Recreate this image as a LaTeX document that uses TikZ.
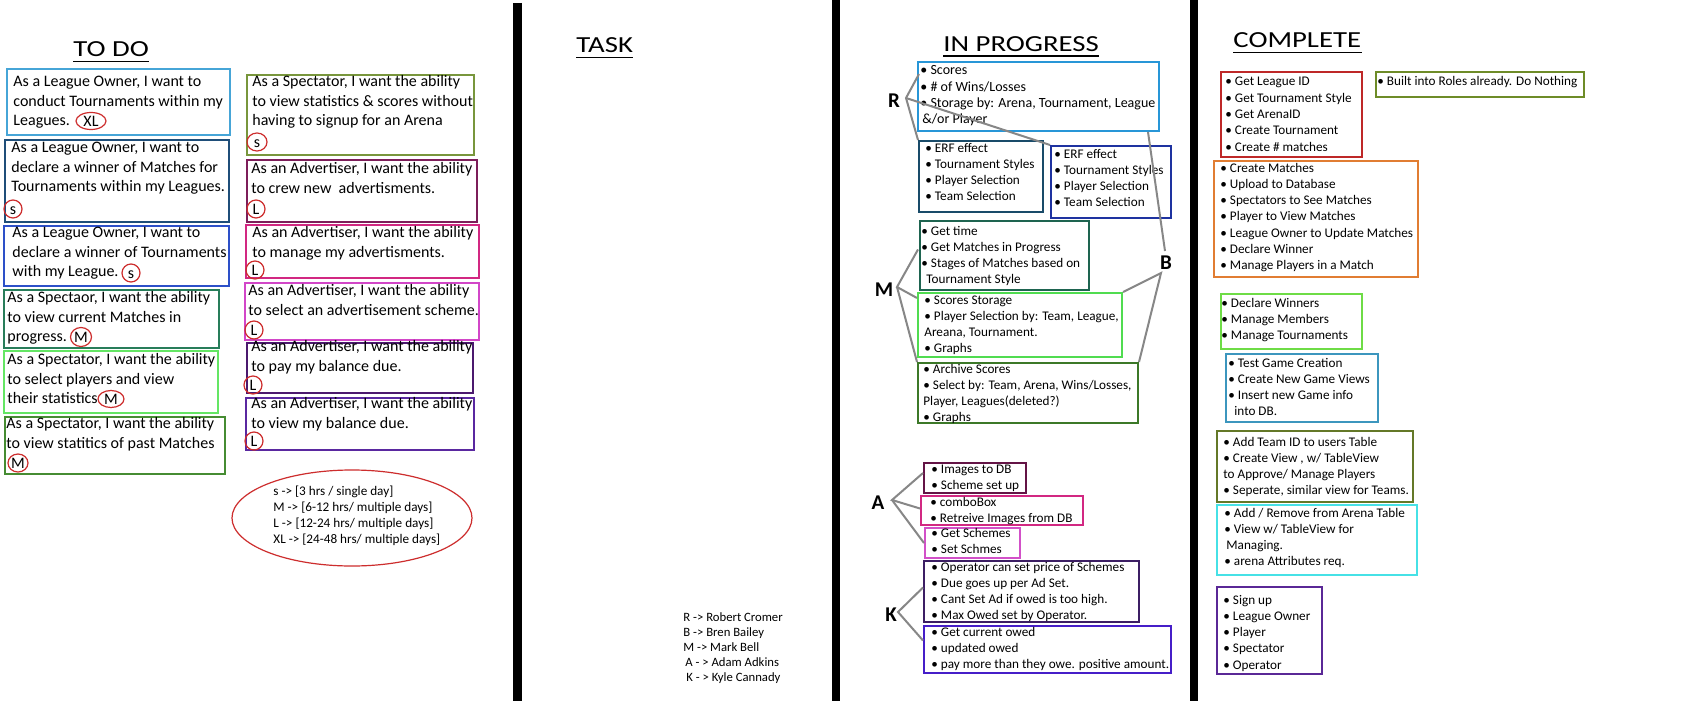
\documentclass[tikz,border=0pt]{standalone}
\usepackage{fontspec}
\setmainfont{Carlito}
\newfontfamily\headfont[FakeStretch=1.25]{Carlito}
\usetikzlibrary{fit,shapes.geometric,calc}
\definecolor{tdA}{RGB}{70,165,215}
\definecolor{tdB}{RGB}{31,78,121}
\definecolor{tdC}{RGB}{45,80,200}
\definecolor{tdD}{RGB}{40,125,90}
\definecolor{tdE}{RGB}{100,230,100}
\definecolor{tdF}{RGB}{70,140,50}
\definecolor{trA}{RGB}{120,150,60}
\definecolor{trB}{RGB}{125,30,90}
\definecolor{trC}{RGB}{210,40,130}
\definecolor{trD}{RGB}{210,70,200}
\definecolor{trE}{RGB}{75,25,110}
\definecolor{trF}{RGB}{90,40,160}
\definecolor{ipR1}{RGB}{40,150,215}
\definecolor{ipR2}{RGB}{25,75,105}
\definecolor{ipR3}{RGB}{30,50,160}
\definecolor{ipM1}{RGB}{30,100,80}
\definecolor{ipM2}{RGB}{80,220,80}
\definecolor{ipM3}{RGB}{60,120,40}
\definecolor{ipA1}{RGB}{100,20,70}
\definecolor{ipA2}{RGB}{210,40,130}
\definecolor{ipA3}{RGB}{210,80,200}
\definecolor{ipK1}{RGB}{60,30,100}
\definecolor{ipK2}{RGB}{70,30,200}
\definecolor{cpA}{RGB}{110,140,40}
\definecolor{cpB}{RGB}{190,40,40}
\definecolor{cpC}{RGB}{225,125,50}
\definecolor{cpD}{RGB}{110,220,70}
\definecolor{cpE}{RGB}{60,150,190}
\definecolor{cpF}{RGB}{100,120,40}
\definecolor{cpG}{RGB}{70,225,230}
\definecolor{cpH}{RGB}{90,40,150}
\definecolor{tagred}{RGB}{205,45,45}
\definecolor{linkgray}{RGB}{135,135,135}
\newcommand\lns[1]{\begin{tabular}[t]{@{}l@{}}#1\end{tabular}}
\begin{document}
\begin{tikzpicture}[x=0.5pt,y=-0.5pt,
  box/.style={draw=#1, line width=1pt, inner sep=0pt},
  story/.style={anchor=base west, inner sep=0pt, font=\fontsize{8}{9.85}\selectfont},
  item/.style={anchor=base west, inner sep=0pt, font=\fontsize{6.6}{8.15}\selectfont},
  head/.style={anchor=base west, inner sep=0pt, font=\headfont\fontsize{11.5}{14}\selectfont},
  tag/.style={ellipse, draw=tagred, line width=0.6pt, inner sep=0pt, minimum width=9pt, minimum height=9pt, text height=5.2pt, text depth=0pt, font=\fontsize{8}{9.85}\selectfont},
  who/.style={inner sep=0pt, font=\bfseries\fontsize{10.5}{12}\selectfont},
  link/.style={draw=linkgray, line width=1pt},
  colrule/.style={line width=4.25pt, black},
  uline/.style={line width=0.75pt, black}]
\useasboundingbox (0,0) rectangle (1700,701);
\fill[white] (0,0) rectangle (1700,701);

% column separators
\draw[colrule] (517.5,3) -- (517.5,701);
\draw[colrule] (836,0) -- (836,701);
\draw[colrule] (1194,0) -- (1194,701);

% headings
\node[head] (h1) at (73,57) {TO DO};
\node[head] (h2) at (576,53) {TASK};
\node[head] (h3) at (943,51.5) {IN PROGRESS};
\node[head] (h4) at (1233,48) {COMPLETE};
\foreach \h in {h1,h2,h3,h4}
  \draw[uline] ($(\h.base west)+(0,4.5)$) -- ($(\h.base east)+(0,4.5)$);

% TO DO column (left)
\node[box=tdA, fit={(7,69) (230,135)}] (td1) {};
\node[box=tdB, fit={(5,140) (229,222)}] (td2) {};
\node[box=tdC, fit={(4,226) (229,286)}] (td3) {};
\node[box=tdD, fit={(4,290) (219,348)}] (td4) {};
\node[box=tdE, fit={(4,351) (218,413)}] (td5) {};
\node[box=tdF, fit={(5,417) (225,474)}] (td6) {};
\node[story] (td1t) at (13,86.5) {\lns{As a League Owner, I want to\\conduct Tournaments within my\\Leagues.}};
\node[story] (td2t) at (11,152.5) {\lns{As a League Owner, I want to\\declare a winner of Matches for\\Tournaments within my Leagues.}};
\node[story] (td3t) at (12,237.5) {\lns{As a League Owner, I want to\\declare a winner of Tournaments\\with my League.}};
\node[story] (td4t) at (7,302.5) {\lns{As a Spectaor, I want the ability\\to view current Matches in\\progress.}};
\node[story] (td5t) at (7,364.5) {\lns{As a Spectator, I want the ability\\to select players and view\\their statistics}};
\node[story] (td6t) at (6,428.5) {\lns{As a Spectator, I want the ability\\to view statitics of past Matches}};
\node[tag, minimum width=15pt, minimum height=8.5pt] (g1) at (91,121) {XL};
\node[tag] (g2) at (13,209) {s};
\node[tag] (g3) at (131,273) {s};
\node[tag, minimum width=10.5pt, minimum height=9.5pt] (g4) at (81,337) {M};
\node[tag, minimum width=13pt, minimum height=8.5pt] (g5) at (111,399) {M};
\node[tag, minimum width=10pt] (g6) at (18,463) {M};

% TO DO column (right)
\node[box=trA, fit={(247,75) (474,155)}] (tr1) {};
\node[box=trB, fit={(247,160) (477,222)}] (tr2) {};
\node[box=trC, fit={(246,225) (479,278)}] (tr3) {};
\node[box=trD, fit={(245,283) (479,340)}] (tr4) {};
\node[box=trE, fit={(247,343) (473,393)}] (tr5) {};
\node[box=trF, fit={(246,398) (474,450)}] (tr6) {};
\node[story] (tr1t) at (252,86.5) {\lns{As a Spectator, I want the ability\\to view statistics \& scores without\\having to signup for an Arena}};
\node[story] (tr2t) at (251,173.5) {\lns{As an Advertiser, I want the ability\\to crew new\ \ advertisments.}};
\node[story] (tr3t) at (252,237.5) {\lns{As an Advertiser, I want the ability\\to manage my advertisments.}};
\node[story] (tr4t) at (248,295.5) {\lns{As an Advertiser, I want the ability\\to select an advertisement scheme.}};
\node[story] (tr5t) at (251,351.5) {\lns{As an Advertiser, I want the ability\\to pay my balance due.}};
\node[story] (tr6t) at (251,408.5) {\lns{As an Advertiser, I want the ability\\to view my balance due.}};
\node[tag, minimum width=10pt] (h5) at (257,142) {s};
\node[tag] (l2) at (256,209) {L};
\node[tag] (l3) at (255,270) {L};
\node[tag] (l4) at (254,330) {L};
\node[tag] (l5) at (253,385) {L};
\node[tag] (l6) at (254,441) {L};

% size legend
\node[ellipse, draw=tagred, line width=0.6pt, minimum width=120pt, minimum height=48pt, inner sep=0pt] (sizes) at (352,518) {};
\node[anchor=base west, inner sep=0pt, font=\fontsize{6.6}{8}\selectfont] (sizest) at (273,495)
  {\lns{s -> [3 hrs / single day]\\M -> [6-12 hrs/ multiple days]\\L -> [12-24 hrs/ multiple days]\\XL -> [24-48 hrs/ multiple days]}};

% names legend
\node[anchor=base west, inner sep=0pt, font=\fontsize{6.35}{7.6}\selectfont] (names) at (683,621)
  {\lns{R -> Robert Cromer\\B -> Bren Bailey\\M -> Mark Bell\\\hspace{1pt}A - > Adam Adkins\\\hspace{1.5pt}K - > Kyle Cannady}};

% IN PROGRESS boxes
\node[box=ipR1, fit={(918,62) (1159,131)}] (r1) {};
\node[box=ipR2, fit={(919,141) (1043,212)}] (r2) {};
\node[box=ipR3, fit={(1051,146) (1171,218)}] (r3) {};
\node[box=ipM1, fit={(920,221) (1089,290)}] (m1) {};
\node[box=ipM2, fit={(918,293) (1122,357)}] (m2) {};
\node[box=ipM3, fit={(918,363) (1138,423)}] (m3) {};
\node[box=ipA1, fit={(924,463) (1026,493)}] (a1) {};
\node[box=ipA2, fit={(921,496) (1083,525)}] (a2) {};
\node[box=ipA3, fit={(925,528) (1020,558)}] (a3) {};
\node[box=ipK1, fit={(924,561) (1139,622)}] (k1) {};
\node[box=ipK2, fit={(924,626) (1171,673)}] (k2) {};
\node[item, font=\fontsize{7}{8.15}\selectfont] (r1t) at (920,75) {\lns{• Scores\\• \# of Wins/Losses\\• Storage by: Arena, Tournament, League\\\hspace{1pt}\&/or Player}};
\node[item] (r2t) at (925,152) {\lns{• ERF effect\\• Tournament Styles\\• Player Selection\\• Team Selection}};
\node[item] (r3t) at (1054,158) {\lns{• ERF effect\\• Tournament Styles\\• Player Selection\\• Team Selection}};
\node[item] (m1t) at (921,235) {\lns{• Get time\\• Get Matches in Progress\\• Stages of Matches based on\\\hspace{2.5pt}Tournament Style}};
\node[item] (m2t) at (924,304) {\lns{• Scores Storage\\• Player Selection by: Team, League,\\Areana, Tournament.\\• Graphs}};
\node[item] (m3t) at (923,373) {\lns{• Archive Scores\\• Select by: Team, Arena, Wins/Losses,\\Player, Leagues(deleted?)\\• Graphs}};
\node[item] (a1t) at (931,473) {\lns{• Images to DB\\• Scheme set up}};
\node[item] (a2t) at (930,506) {\lns{• comboBox\\• Retreive Images from DB}};
\node[item] (a3t) at (931,537) {\lns{• Get Schemes\\• Set Schmes}};
\node[item] (k1t) at (931,571) {\lns{• Operator can set price of Schemes\\• Due goes up per Ad Set.\\• Cant Set Ad if owed is too high.\\• Max Owed set by Operator.}};
\node[item] (k2t) at (931,636) {\lns{• Get current owed\\• updated owed\\• pay more than they owe. positive amount.}};

% owner letters
\node[who] (Rl) at (894,101) {R};
\node[who] (Bl) at (1166,263) {B};
\node[who] (Ml) at (884,290) {M};
\node[who] (Al) at (878,503) {A};
\node[who] (Kl) at (891,615) {K};
\coordinate (Rx) at (906,98);
\coordinate (Bt) at (1165,251);
\coordinate (Bx) at (1161,273);
\coordinate (Mx) at (897,287);
\coordinate (Ax) at (892,500);
\coordinate (Kx) at (898,612);

% connectors
\draw[link] ($(r1.north west)+(2,13)$) -- (Rx) -- (r2.north west);
\draw[link] (Rx) -- (r3.north west);
\draw[link] ($(r1.south east)+(-12,0)$) -- (Bt);
\draw[link] (m2.north east) -- (Bx) -- (m3.north east);
\draw[link] ($(m1.west)+(-1,-6)$) -- (Mx) -- ($(m2.north west)+(0,6)$);
\draw[link] (Mx) -- (m3.north west);
\draw[link] ($(a1.west)+(0,-5)$) -- (Ax) -- ($(a2.west)+(0,-2)$);
\draw[link] (Ax) -- (a3.west);
\draw[link] ($(k1.west)+(0,-4)$) -- (Kx) -- ($(k2.west)+(0,-9)$);

% COMPLETE boxes
\node[box=cpA, fit={(1376,72) (1584,97)}] (c0) {};
\node[box=cpB, fit={(1221,72) (1362,157)}] (c1) {};
\node[box=cpC, fit={(1214,161) (1418,277)}] (c2) {};
\node[box=cpD, fit={(1221,294) (1362,349)}] (c3) {};
\node[box=cpE, fit={(1226,354) (1378,422)}] (c4) {};
\node[box=cpF, fit={(1217,431) (1413,502)}] (c5) {};
\node[box=cpG, fit={(1217,505) (1417,575)}] (c6) {};
\node[box=cpH, fit={(1217,587) (1322,674)}] (c7) {};
\node[item] (c0t) at (1377,86) {• Built into Roles already. Do Nothing};
\node[item] (c1t) at (1225,86) {\lns{• Get League ID\\• Get Tournament Style\\• Get ArenaID\\• Create Tournament\\• Create \# matches}};
\node[item] (c2t) at (1220,172) {\lns{• Create Matches\\• Upload to Database\\• Spectators to See Matches\\• Player to View Matches\\• League Owner to Update Matches\\• Declare Winner\\• Manage Players in a Match}};
\node[item] (c3t) at (1221,307) {\lns{• Declare Winners\\• Manage Members\\• Manage Tournaments}};
\node[item] (c4t) at (1228,367) {\lns{• Test Game Creation\\• Create New Game Views\\• Insert new Game info\\\hspace{3pt}into DB.}};
\node[item] (c5t) at (1223,446) {\lns{• Add Team ID to users Table\\• Create View , w/ TableView\\to Approve/ Manage Players\\• Seperate, similar view for Teams.}};
\node[item] (c6t) at (1224,517) {\lns{• Add / Remove from Arena Table\\• View w/ TableView for\\\hspace{1pt}Managing.\\• arena Attributes req.}};
\node[item] (c7t) at (1223,604) {\lns{• Sign up\\• League Owner\\• Player\\• Spectator\\• Operator}};
\end{tikzpicture}
\end{document}
